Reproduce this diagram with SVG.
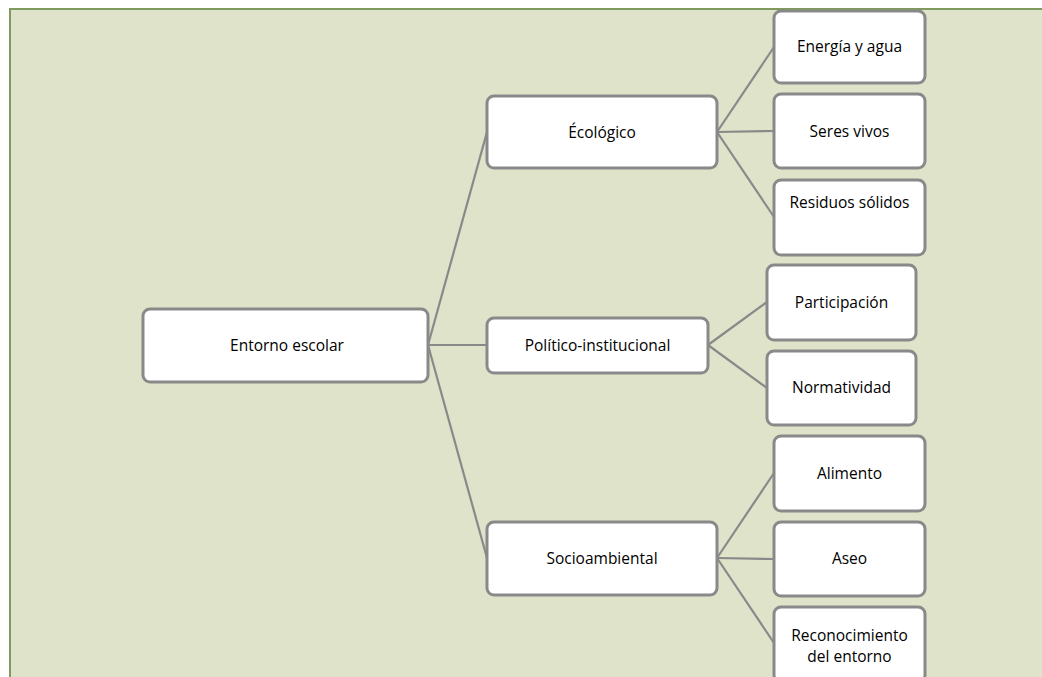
<svg xmlns="http://www.w3.org/2000/svg" width="1042" height="677" viewBox="0 0 1042 677">
<style>
.node rect{fill:#ffffff;stroke:#898989;stroke-width:3}
.node text{font-family:"Open Sans","Liberation Sans",sans-serif;font-size:15.5px;fill:#000;text-anchor:middle}
.conn line{stroke:#898989;stroke-width:2.2}
</style>
<rect x="0" y="0" width="1042" height="677" fill="#ffffff"/>
<rect x="10" y="9" width="1040" height="680" fill="#dfe3ca" stroke="#7f9a5f" stroke-width="2"/>
<g id="connectors" class="conn">
<line x1="428" y1="345" x2="487" y2="132"/>
<line x1="428" y1="345" x2="487" y2="345"/>
<line x1="428" y1="345" x2="487" y2="558"/>
<line x1="717" y1="132" x2="774" y2="47"/>
<line x1="717" y1="132" x2="774" y2="131"/>
<line x1="717" y1="132" x2="774" y2="217"/>
<line x1="708" y1="345" x2="767" y2="302"/>
<line x1="708" y1="345" x2="767" y2="388"/>
<line x1="717" y1="558" x2="774" y2="473"/>
<line x1="717" y1="558" x2="774" y2="559"/>
<line x1="717" y1="558" x2="774" y2="643"/>
</g>
<g id="n-entorno" class="node"><rect x="143" y="309" width="285" height="73" rx="7"/><text x="287" y="351">Entorno escolar</text></g>
<g id="n-ecologico" class="node"><rect x="487" y="96" width="230" height="72" rx="7"/><text x="602" y="138">Écológico</text></g>
<g id="n-politico" class="node"><rect x="487" y="318" width="221" height="55" rx="7"/><text x="597.5" y="351">Político-institucional</text></g>
<g id="n-socio" class="node"><rect x="487" y="522" width="230" height="73" rx="7"/><text x="602" y="564">Socioambiental</text></g>
<g id="n-energia" class="node"><rect x="774" y="11" width="151" height="72" rx="7"/><text x="849.5" y="52">Energía y agua</text></g>
<g id="n-seres" class="node"><rect x="774" y="94" width="151" height="74" rx="7"/><text x="849.5" y="137">Seres vivos</text></g>
<g id="n-residuos" class="node"><rect x="774" y="180" width="151" height="75" rx="7"/><text x="849.5" y="208">Residuos sólidos</text></g>
<g id="n-participacion" class="node"><rect x="767" y="265" width="149" height="75" rx="7"/><text x="841.5" y="308">Participación</text></g>
<g id="n-normatividad" class="node"><rect x="767" y="351" width="149" height="74" rx="7"/><text x="841.5" y="393">Normatividad</text></g>
<g id="n-alimento" class="node"><rect x="774" y="436" width="151" height="75" rx="7"/><text x="849.5" y="479">Alimento</text></g>
<g id="n-aseo" class="node"><rect x="774" y="522" width="151" height="74" rx="7"/><text x="849.5" y="564">Aseo</text></g>
<g id="n-reconocimiento" class="node"><rect x="774" y="607" width="151" height="75" rx="7"/><text x="849.5" y="641">Reconocimiento</text><text x="849.5" y="662">del entorno</text></g>
</svg>
